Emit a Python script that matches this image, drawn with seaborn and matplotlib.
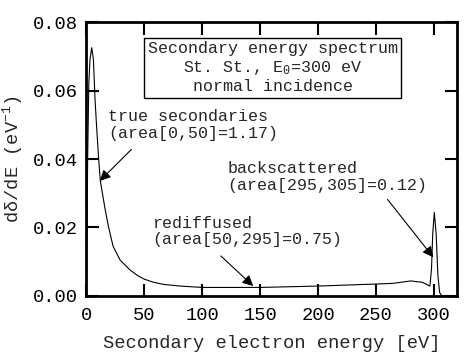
import numpy as np
import pandas as pd
import matplotlib
matplotlib.use("Agg")
import matplotlib.pyplot as plt
import seaborn as sns

energy = [0, 1, 2, 3, 4.5, 6, 7.4, 9, 10.5, 12, 14, 16, 19, 23, 29, 37.6,
          44, 50, 58, 66.4, 81, 100, 120, 150, 175, 200, 225, 251,
          265, 280, 290, 296.6, 298, 299, 300.4, 302, 303.5, 305, 307, 320]
spectrum = [0, 0.040, 0.062, 0.069, 0.0725, 0.069, 0.0572, 0.048, 0.040,
            0.0335, 0.0295, 0.0255, 0.0202, 0.0145, 0.0105, 0.0076,
            0.006, 0.0049, 0.0040, 0.0034, 0.0029, 0.0025, 0.0025, 0.0025,
            0.0027, 0.0029, 0.0032, 0.0035, 0.0037, 0.0044,
            0.0040, 0.0029, 0.008, 0.018, 0.0244, 0.018, 0.006, 0.001, 0.0, 0.0]

x_ticks = [0, 50, 100, 150, 200, 250, 300]
y_ticks = [0.00, 0.02, 0.04, 0.06, 0.08]

box_lines = ["Secondary energy spectrum", "St. St., E$_0$=300 eV", "normal incidence"]
labels = ["true secondaries\n(area[0,50]=1.17)",
          "rediffused\n(area[50,295]=0.75)",
          "backscattered\n(area[295,305]=0.12)"]
arrow_tips = [(11.5, 0.0336), (144, 0.0029), (299.5, 0.0113)]
arrow_tails = [(38.8, 0.0428), (116, 0.0117), (260, 0.0282)]
text_pos = [(19, 0.0499), (57, 0.0188), (121.5, 0.0347)]

sns.set_theme(style="ticks")
plt.rcParams['font.family'] = ['Liberation Mono', 'DejaVu Sans']
plt.rcParams['mathtext.default'] = 'regular'

fig = plt.figure(figsize=(4.66, 3.59), dpi=100)
ax = fig.add_axes([0.1856, 0.1755, 0.7951, 0.7632])

df = pd.DataFrame({"E": energy, "S": spectrum})
sns.lineplot(data=df, x="E", y="S", ax=ax, color="black", linewidth=0.8)

ax.set_xlim(0, 320)
ax.set_ylim(0, 0.08)
ax.set_xticks(x_ticks)
ax.set_yticks(y_ticks)
ax.set_xticklabels([str(v) for v in x_ticks])
ax.set_yticklabels([f"{v:.2f}" for v in y_ticks])
ax.tick_params(direction="in", length=9, width=1.5, top=True, right=True,
               labelsize=13.5, colors="black")
ax.tick_params(axis="x", pad=8)
ax.tick_params(axis="y", pad=6)
for s in ax.spines.values():
    s.set_linewidth(2)
    s.set_color("black")

ax.set_xlabel("Secondary electron energy [eV]", fontsize=13.5, labelpad=8)
ax.set_ylabel("dδ/dE (eV$^{-1}$)", fontsize=13.5, labelpad=6)

ax.text(160.9, 0.0666,
        "\n".join(box_lines), ha="center", va="center", fontsize=12,
        linespacing=1.2,
        bbox=dict(boxstyle="square,pad=0.2", fc="white", ec="black", lw=1))

for lab, tip, tail, pos in zip(labels, arrow_tips, arrow_tails, text_pos):
    ax.text(pos[0], pos[1], lab, ha="left", va="center", fontsize=12,
            linespacing=1.12)
    ax.annotate("", xy=tip, xytext=tail,
                arrowprops=dict(arrowstyle="-|>", color="black", lw=0.8,
                                mutation_scale=16, shrinkA=0, shrinkB=0))

fig.savefig("out.png", dpi=100)
